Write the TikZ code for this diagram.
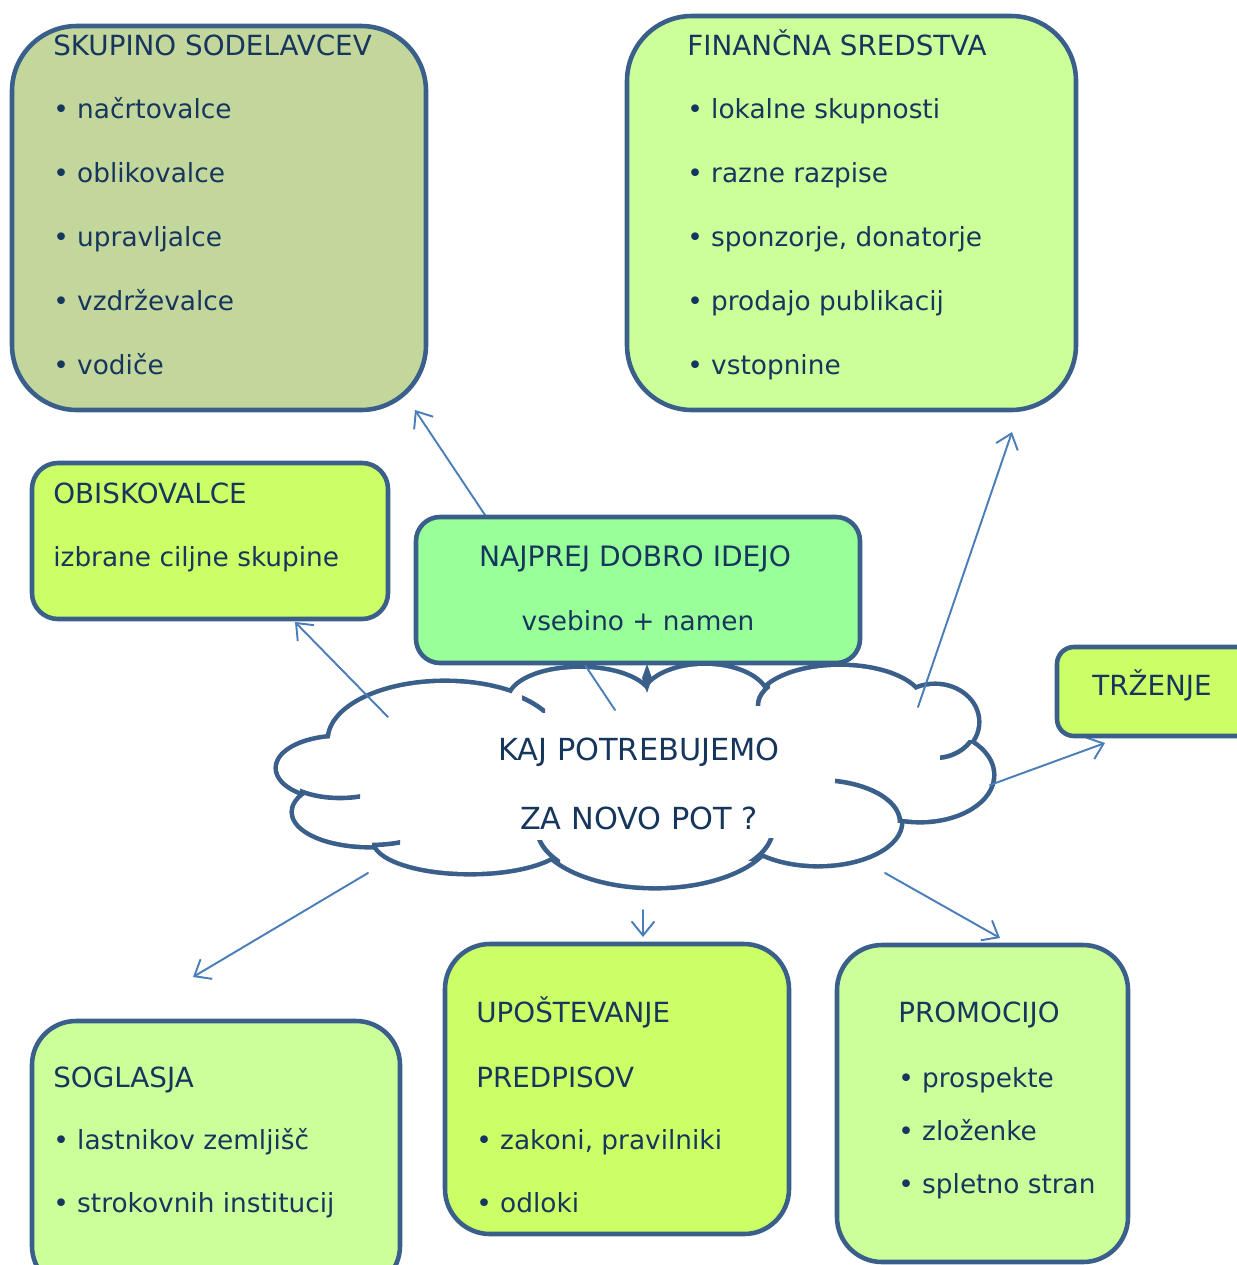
\documentclass[tikz,border=0pt]{standalone}
\usepackage{fontspec}
\setmainfont{DejaVu Sans}
\usetikzlibrary{arrows.meta,fit}
\definecolor{boxline}{RGB}{58,95,139}
\definecolor{arrowblue}{RGB}{74,126,187}
\definecolor{navy}{RGB}{23,54,93}
\definecolor{olivegreen}{RGB}{195,214,155}
\definecolor{palegreen}{RGB}{204,255,153}
\definecolor{limegreen}{RGB}{204,255,102}
\definecolor{mintgreen}{RGB}{153,255,153}
\newcommand{\blt}{\makebox[13.6pt][l]{\textbullet}}
\tikzset{
  box/.style={draw=boxline,line width=2.6pt,inner sep=0pt},
  txt/.style={text=navy,anchor=base west,inner sep=0pt},
  ttl/.style={txt,font=\fontsize{15.8}{19}\selectfont},
  ctxt/.style={text=navy,anchor=base,inner sep=0pt},
  arrowline/.style={draw=arrowblue,line width=1.1pt},
  cloudline/.style={draw=boxline,line width=2.6pt}
}
\def\puffs{340/768/62/30, 370/812/76/33, 470/840/95/32, 655/828/118/58,
  818/822/82/42, 920/775/72/45, 935/722/42/36, 840/705/82/38,
  705/700/62/34, 580/700/70/31, 445/740/115/57}
\begin{document}
\begin{tikzpicture}[x=0.02cm,y=-0.02cm,line cap=round,line join=round,>={Straight Barb[length=8pt,width=13pt]},font=\fontsize{15}{18}\selectfont]
\useasboundingbox (0,0) rectangle (1237,1265);

% cloud
\foreach \cx/\cy/\rx/\ry in \puffs
  \draw[boxline,line width=5.2pt] (\cx,\cy) ellipse [x radius=\rx, y radius=\ry];
\foreach \cx/\cy/\rx/\ry in \puffs
  \fill[white] (\cx,\cy) ellipse [x radius=\rx, y radius=\ry];
\fill[white] (640,770) ellipse [x radius=290, y radius=70];
\foreach \cx/\cy/\rx/\ry/\xa/\ya/\xb/\yb in {818/822/82/42/835/775/905/822,
    935/722/42/36/940/740/975/762, 840/705/82/38/755/684/770/705,
    445/740/115/57/522/694/545/712, 340/768/62/30/300/788/360/800,
    370/812/76/33/372/835/400/848, 655/828/118/58/535/840/560/862,
    655/828/118/58/745/838/775/860}
{
  \begin{scope}
    \clip (\xa,\ya) rectangle (\xb,\yb);
    \draw[cloudline] (\cx,\cy) ellipse [x radius=\rx, y radius=\ry];
  \end{scope}
}
\fill[boxline] (647,664) -- (652,678) -- (647,693) -- (642,678) -- cycle;

% connectors
\coordinate (s-sod) at (615,710);
\coordinate (e-sod) at (415,410);
\coordinate (s-obi) at (388,717);
\coordinate (e-obi) at (295,622);
\coordinate (s-fin) at (918,707);
\coordinate (e-fin) at (1012,432);
\coordinate (s-trz) at (990,785);
\coordinate (e-trz) at (1105,743);
\coordinate (s-sog) at (368,873);
\coordinate (e-sog) at (193,977);
\coordinate (s-upo) at (643,910);
\coordinate (e-upo) at (643,937);
\coordinate (s-pro) at (885,873);
\coordinate (e-pro) at (1000,938);
\foreach \n in {sod,obi,fin,trz,sog,upo,pro}
  \draw[arrowline,->] (s-\n) -- (e-\n);

% boxes
\node[box,fill=olivegreen,rounded corners=1.3cm,fit={(12,26) (426,410)}] (sodelavci) {};
\node[box,fill=palegreen,rounded corners=1.3cm,fit={(627,16) (1076,410)}] (sredstva) {};
\node[box,fill=limegreen,rounded corners=0.52cm,fit={(32,463) (388,619)}] (obisk) {};
\node[box,fill=mintgreen,rounded corners=0.48cm,fit={(416,517) (860,663)}] (ideja) {};
\node[box,fill=limegreen,rounded corners=0.34cm,fit={(1057,647) (1260,736)}] (trzenje) {};
\node[box,fill=palegreen,rounded corners=0.88cm,fit={(32,1021) (400,1290)}] (soglasja) {};
\node[box,fill=limegreen,rounded corners=0.9cm,fit={(445,944) (789,1234)}] (predpisi) {};
\node[box,fill=palegreen,rounded corners=0.9cm,fit={(837,945) (1128,1262)}] (promocija) {};

% texts
\node[ttl] (sod-t) at (53,55) {SKUPINO SODELAVCEV};
\foreach \t [count=\i] in {načrtovalce, oblikovalce, upravljalce, vzdrževalce, vodiče}
  \node[txt] (sod-\i) at (53,{54+64*\i}) {\blt\t};
\node[ttl] (fin-t) at (687,55) {FINANČNA SREDSTVA};
\foreach \t [count=\i] in {lokalne skupnosti, razne razpise, {sponzorje, donatorje}, prodajo publikacij, vstopnine}
  \node[txt] (fin-\i) at (687,{54+64*\i}) {\blt\t};
\node[ttl] (obi-t) at (53,503) {OBISKOVALCE};
\node[txt] (obi-1) at (53,566) {izbrane ciljne skupine};
\node[ctxt,font=\fontsize{16}{19}\selectfont] (ide-t) at (635,566) {NAJPREJ DOBRO IDEJO};
\node[ctxt] (ide-1) at (638,630) {vsebino + namen};
\node[ttl] (trz-t) at (1092,695) {TRŽENJE};
\node[ctxt,font=\fontsize{17.3}{20}\selectfont] (kaj-1) at (639,760) {KAJ POTREBUJEMO};
\node[ctxt,font=\fontsize{17.3}{20}\selectfont] (kaj-2) at (639,829) {ZA NOVO POT ?};
\node[ttl] (sog-t) at (53,1087) {SOGLASJA};
\foreach \t [count=\i] in {lastnikov zemljišč, strokovnih institucij}
  \node[txt] (sog-\i) at (53,{1086+63*\i}) {\blt\t};
\node[ttl] (upo-t) at (476,1022) {UPOŠTEVANJE};
\node[ttl] (upo-t2) at (476,1087) {PREDPISOV};
\foreach \t [count=\i] in {{zakoni, pravilniki}, odloki}
  \node[txt] (upo-\i) at (476,{1086+63*\i}) {\blt\t};
\node[ttl] (pro-t) at (898,1022) {PROMOCIJO};
\foreach \t [count=\i] in {prospekte, zloženke, spletno stran}
  \node[txt] (pro-\i) at (898,{1034+53*\i}) {\blt\t};
\end{tikzpicture}
\end{document}
